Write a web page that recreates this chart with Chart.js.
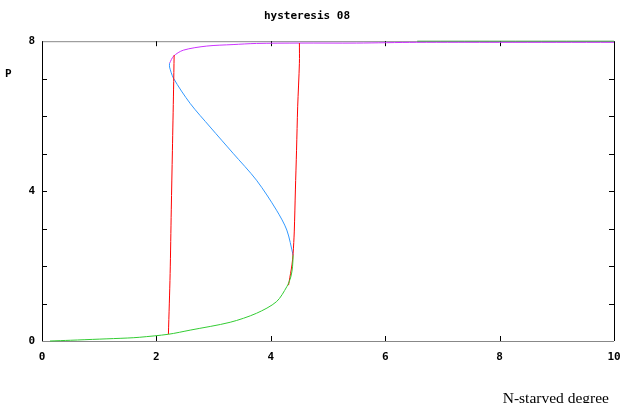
<!DOCTYPE html>
<html>
<head>
<meta charset="utf-8">
<script src="https://cdn.jsdelivr.net/npm/chart.js@4.4.1/dist/chart.umd.min.js"></script>
<style>
  body { margin: 0; background: #fff; }
  #wrap { position: relative; width: 635px; height: 403px; overflow: hidden; }
  #yname { position: absolute; left: 5px; top: 67px; font: bold 11px "DejaVu Sans Mono", monospace; color: #000; }
  #xname { position: absolute; right: 26px; top: 389px; font: 15.5px "Liberation Serif", serif; color: #000; white-space: nowrap; }
</style>
</head>
<body>
<div id="wrap">
  <canvas id="hyst" width="635" height="403"></canvas>
  <div id="yname">P</div>
  <div id="xname">N-starved degree</div>
</div>
<script>
// valores (x = N-starved degree, y = P)
var greenX = [0.14, 0.5, 1.0, 1.5, 1.71, 2.21, 2.59, 3.29, 3.75, 4.10, 4.28, 4.35, 4.38, 4.39];
var greenY = [0.00, 0.02, 0.05, 0.08, 0.10, 0.18, 0.29, 0.50, 0.74, 1.05, 1.45, 1.71, 1.98, 2.29];

// ramo verde superior (coincide com o topo)
var greenTopX = [6.56, 10.00];
var greenTopY = [8.00, 8.00];

var blueX = [4.39, 4.28, 4.10, 3.75, 3.34, 2.94, 2.59, 2.30, 2.23, 2.23];
var blueY = [2.29, 2.96, 3.49, 4.29, 5.01, 5.71, 6.34, 7.01, 7.31, 7.41];

var magentaX = [2.23, 2.30, 2.47, 2.88, 3.34, 3.75, 4.50, 5.50, 6.55, 8.00, 10.00];
var magentaY = [7.41, 7.60, 7.76, 7.87, 7.91, 7.94, 7.95, 7.95, 7.97, 7.97, 7.97];

var redLeftX = [2.21, 2.24, 2.26, 2.28, 2.30, 2.31];
var redLeftY = [0.18, 1.80, 3.50, 5.09, 6.70, 7.63];

var redRightX = [4.31, 4.32, 4.37, 4.39, 4.41, 4.43, 4.45, 4.47, 4.50, 4.50];
var redRightY = [1.49, 1.58, 2.03, 2.34, 2.91, 4.03, 5.09, 6.25, 7.41, 7.95];

var xTicks = [0, 2, 4, 6, 8, 10];
var yTicksLabeled = [0, 4, 8];

function pares(xs, ys) {
  return xs.map(function(x, i) { return { x: x, y: ys[i] }; });
}

function serie(xs, ys, cor) {
  return {
    data: pares(xs, ys),
    showLine: true,
    borderColor: cor,
    borderWidth: 1,
    pointRadius: 0,
    tension: 0.3,
    fill: false,
    clip: 2
  };
}

// moldura e marcas de escala para dentro, no estilo gnuplot
var molduraPlugin = {
  id: 'moldura',
  beforeDatasetsDraw: function(chart) {
    var ctx = chart.ctx, a = chart.chartArea;
    var sx = chart.scales.x, sy = chart.scales.y;
    ctx.save();
    ctx.lineWidth = 1;
    ctx.strokeStyle = '#888';
    ctx.beginPath();
    ctx.moveTo(a.left, a.top + 0.5); ctx.lineTo(a.right, a.top + 0.5);
    ctx.moveTo(a.left, a.bottom + 0.5); ctx.lineTo(a.right, a.bottom + 0.5);
    ctx.stroke();
    ctx.strokeStyle = '#000';
    ctx.beginPath();
    ctx.moveTo(a.left + 0.5, a.top); ctx.lineTo(a.left + 0.5, a.bottom);
    ctx.moveTo(a.right + 0.5, a.top); ctx.lineTo(a.right + 0.5, a.bottom);
    ctx.stroke();
    ctx.beginPath();
    sx.ticks.forEach(function(t) {
      if (t.value <= sx.min || t.value >= sx.max) return;
      var px = Math.round(sx.getPixelForValue(t.value)) + 0.5;
      ctx.moveTo(px, a.bottom); ctx.lineTo(px, a.bottom - 5);
      ctx.moveTo(px, a.top); ctx.lineTo(px, a.top + 5);
    });
    sy.ticks.forEach(function(t) {
      if (t.value <= sy.min || t.value >= sy.max) return;
      var py = Math.round(sy.getPixelForValue(t.value)) + 0.5;
      ctx.moveTo(a.left, py); ctx.lineTo(a.left + 5, py);
      ctx.moveTo(a.right, py); ctx.lineTo(a.right - 5, py);
    });
    ctx.stroke();
    ctx.restore();
  }
};

var ctx = document.getElementById('hyst').getContext('2d');
var grafico = new Chart(ctx, {
  type: 'scatter',
  data: {
    datasets: [
      serie(greenX, greenY, '#33cc33'),
      serie(redLeftX, redLeftY, '#ff0000'),
      serie(redRightX, redRightY, '#ff0000'),
      serie(blueX, blueY, '#3399ff'),
      serie(magentaX, magentaY, '#cc33ff'),
      serie(greenTopX, greenTopY, '#33aa33')
    ]
  },
  options: {
    responsive: false,
    animation: false,
    layout: { padding: { left: 0, right: 21, top: 0, bottom: 0 } },
    plugins: {
      legend: { display: false },
      tooltip: { enabled: false },
      title: {
        display: true,
        text: 'hysteresis 08',
        color: '#000',
        font: { family: 'DejaVu Sans Mono', size: 11, weight: 'bold' },
        padding: { top: 10, bottom: 18 }
      }
    },
    scales: {
      x: {
        type: 'linear',
        min: 0, max: 10,
        afterBuildTicks: function(s) { s.ticks = xTicks.map(function(v) { return { value: v }; }); },
        afterFit: function(s) { s.height = 62; },
        grid: { display: false, drawTicks: false },
        border: { display: false },
        ticks: {
          color: '#000',
          padding: 10,
          maxRotation: 0,
          font: { family: 'DejaVu Sans Mono', size: 11, weight: 'bold' }
        }
      },
      y: {
        type: 'linear',
        min: 0, max: 8,
        ticks: {
          stepSize: 1,
          color: '#000',
          padding: 7,
          font: { family: 'DejaVu Sans Mono', size: 11, weight: 'bold' },
          callback: function(v) { return yTicksLabeled.indexOf(v) >= 0 ? v : ''; }
        },
        afterFit: function(s) { s.width = 42; },
        grid: { display: false, drawTicks: false },
        border: { display: false }
      }
    }
  },
  plugins: [molduraPlugin]
});
</script>
</body>
</html>
